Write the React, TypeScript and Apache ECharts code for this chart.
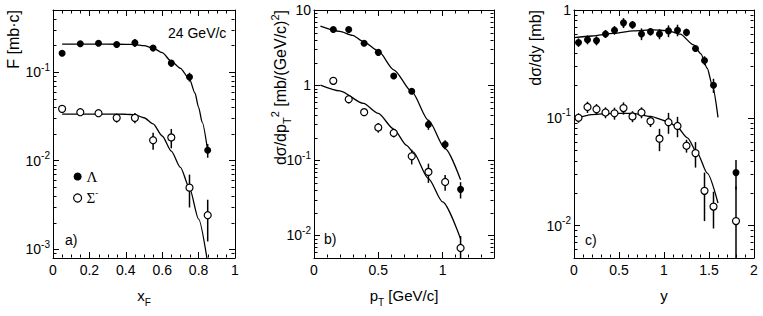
import React, { useEffect, useRef } from "react";
import * as echarts from "echarts";

// ---------- Panel a) F vs x_F ----------
const aX = [0.05, 0.15, 0.25, 0.35, 0.45, 0.55, 0.65, 0.75, 0.85];
const aLam = [0.163, 0.208, 0.211, 0.204, 0.213, 0.186, 0.126, 0.088, 0.0131];
const aLamErr = [0.004, 0.016, 0.014, 0.013, 0.022, 0.01, 0.011, 0.01, 0.0023];
const aSig = [0.0384, 0.0352, 0.0343, 0.0304, 0.0304, 0.017, 0.0183, 0.00497, 0.00243];
const aSigErr = [0.002, 0.0027, 0.0027, 0.0035, 0.004, 0.0037, 0.0045, 0.002, 0.0012];
const aLamCurveX = [0.05, 0.1, 0.2, 0.3, 0.4, 0.45, 0.5, 0.55, 0.6, 0.65, 0.7, 0.75, 0.78, 0.8, 0.82, 0.85];
const aLamCurve = [0.206, 0.206, 0.206, 0.206, 0.205, 0.204, 0.198, 0.186, 0.165, 0.132, 0.11, 0.083, 0.058, 0.04, 0.027, 0.0128];
const aSigCurveX = [0.05, 0.1, 0.2, 0.3, 0.4, 0.45, 0.5, 0.55, 0.6, 0.65, 0.7, 0.75, 0.8, 0.85];
const aSigCurve = [0.0335, 0.0335, 0.0335, 0.0335, 0.0334, 0.033, 0.0305, 0.026, 0.019, 0.0128, 0.0084, 0.0049, 0.0022, 0.0007];

// ---------- Panel b) dσ/dpT² vs pT ----------
const bX = [0.15, 0.27, 0.39, 0.5, 0.62, 0.76, 0.89, 1.02, 1.14];
const bLam = [5.5, 5.5, 3.6, 2.73, 1.32, 0.83, 0.3, 0.162, 0.041];
const bLamErr = [0.4, 0.35, 0.2, 0.15, 0.1, 0.05, 0.046, 0.022, 0.01];
const bSig = [1.14, 0.65, 0.437, 0.273, 0.231, 0.113, 0.07, 0.0514, 0.0068];
const bSigErr = [0.08, 0.08, 0.04, 0.04, 0.03, 0.025, 0.02, 0.012, 0.003];
const bLamCurveX = [0.05, 0.2, 0.3, 0.385, 0.5, 0.62, 0.76, 0.89, 1.02, 1.14];
const bLamCurve = [6.1, 5.2, 4.6, 3.78, 2.85, 1.6, 0.82, 0.34, 0.143, 0.055];
const bSigCurveX = [0.05, 0.2, 0.385, 0.5, 0.62, 0.72, 0.77, 0.89, 1.0, 1.14];
const bSigCurve = [1.0, 0.84, 0.57, 0.42, 0.26, 0.158, 0.129, 0.057, 0.028, 0.009];

// ---------- Panel c) dσ/dy vs y ----------
const cX = [0.05, 0.15, 0.25, 0.35, 0.45, 0.55, 0.65, 0.75, 0.85, 0.95, 1.05, 1.15, 1.25, 1.35, 1.45, 1.55, 1.8];
const cLam = [0.5, 0.53, 0.52, 0.6, 0.65, 0.76, 0.73, 0.6, 0.63, 0.6, 0.64, 0.65, 0.62, 0.44, 0.34, 0.2, 0.031];
const cLamErr = [0.045, 0.05, 0.05, 0.05, 0.06, 0.08, 0.06, 0.075, 0.05, 0.065, 0.08, 0.08, 0.05, 0.03, 0.032, 0.03, 0.0095];
const cSig = [0.1, 0.126, 0.12, 0.112, 0.11, 0.123, 0.103, 0.112, 0.093, 0.064, 0.091, 0.084, 0.055, 0.047, 0.021, 0.015, 0.011];
const cSigErr = [0.01, 0.015, 0.014, 0.013, 0.014, 0.016, 0.012, 0.013, 0.011, 0.015, 0.02, 0.018, 0.0075, 0.0125, 0.01, 0.0056, 0.012];
const cLamCurveX = [0, 0.2, 0.44, 0.66, 0.88, 1.04, 1.18, 1.33, 1.41, 1.48, 1.54, 1.6];
const cLamCurve = [0.554, 0.574, 0.608, 0.64, 0.653, 0.644, 0.596, 0.474, 0.392, 0.288, 0.195, 0.101];
const cSigCurveX = [0, 0.2, 0.44, 0.66, 0.85, 1.04, 1.14, 1.26, 1.37, 1.48, 1.6];
const cSigCurve = [0.097, 0.107, 0.11, 0.11, 0.103, 0.0925, 0.083, 0.065, 0.047, 0.0307, 0.0162];

// axis ranges
const xRanges = [
  { min: 0, max: 1, interval: 0.2, minor: 0.05 },
  { min: 0, max: 1.4, interval: 0.5, minor: 0.1 },
  { min: 0, max: 2, interval: 0.5, minor: 0.1 },
];
const yRanges = [
  { min: 0.0008, max: 0.5 },
  { min: 0.005, max: 10 },
  { min: 0.005, max: 1 },
];

const FONT = '"Liberation Sans", Arial, Helvetica, sans-serif';
const SERIF = '"Liberation Serif", "Times New Roman", serif';

const zip = (xs: number[], ys: number[]) => xs.map((x, i) => [x, ys[i]]);
const zip3 = (xs: number[], ys: number[], es: number[]) => xs.map((x, i) => [x, ys[i], es[i]]);

const tickRich = {
  n: { fontSize: 14, lineHeight: 20, fontFamily: FONT, color: "#000" },
  sup: { fontSize: 10, lineHeight: 10, padding: [0, 0, 10, 0], fontFamily: FONT, color: "#000" },
};
const nameRich = {
  n: { fontSize: 15, lineHeight: 24, fontFamily: FONT, color: "#000" },
  sub: { fontSize: 10, lineHeight: 10, padding: [14, 0, 0, 0], fontFamily: FONT, color: "#000" },
  sup: { fontSize: 10, lineHeight: 10, padding: [2, 0, 12, 0], fontFamily: FONT, color: "#000" },
};
const yNameRich = {
  n: { fontSize: 16, lineHeight: 24, fontFamily: FONT, color: "#000" },
  sub: { fontSize: 11, lineHeight: 10, padding: [14, 0, 0, 0], fontFamily: FONT, color: "#000" },
  sup: { fontSize: 11, lineHeight: 10, padding: [2, 0, 12, 0], fontFamily: FONT, color: "#000" },
};

function logLabel(v: number) {
  const l = Math.log10(v);
  const e = Math.round(l);
  if (Math.abs(l - e) > 1e-6) return "";
  if (e === 0) return "{n|1}";
  if (e === 1) return "{n|10}";
  return "{n|10}{sup|" + e + "}";
}

function minorValues(min: number, max: number, step: number, major: number) {
  const out: number[] = [];
  const n = Math.round((max - min) / step);
  for (let i = 1; i < n; i++) {
    const v = min + i * step;
    const r = v / major;
    if (Math.abs(r - Math.round(r)) < 1e-6) continue;
    out.push(v);
  }
  return out;
}
function logMinorValues(min: number, max: number) {
  const out: number[] = [];
  for (let e = Math.floor(Math.log10(min)); e <= Math.ceil(Math.log10(max)); e++) {
    for (let m = 2; m <= 9; m++) {
      const v = m * Math.pow(10, e);
      if (v > min && v < max) out.push(v);
    }
  }
  return out;
}

function minorTickSeries(gi: number) {
  const xr = xRanges[gi];
  const yr = yRanges[gi];
  const xm = minorValues(xr.min, xr.max, xr.minor, xr.interval);
  const ym = logMinorValues(yr.min, yr.max);
  return {
    type: "custom",
    xAxisIndex: gi,
    yAxisIndex: gi,
    silent: true,
    clip: false,
    z: 1,
    data: [[xr.min, yr.min]],
    renderItem: (params: any, api: any) => {
      const cs = params.coordSys;
      const L = 3;
      const children: any[] = [];
      const st = { stroke: "#000", lineWidth: 1 };
      const left = Math.round(cs.x) + 0.5;
      const right = Math.round(cs.x + cs.width) - 0.5;
      const top = Math.round(cs.y) + 0.5;
      const bottom = Math.round(cs.y + cs.height) - 0.5;
      xm.forEach((v) => {
        const px = Math.round(api.coord([v, yr.min])[0]) + 0.5;
        children.push({ type: "line", shape: { x1: px, y1: bottom, x2: px, y2: bottom - L }, style: st });
        children.push({ type: "line", shape: { x1: px, y1: top, x2: px, y2: top + L }, style: st });
      });
      ym.forEach((v) => {
        const py = Math.round(api.coord([xr.min, v])[1]) + 0.5;
        children.push({ type: "line", shape: { x1: left, y1: py, x2: left + L, y2: py }, style: st });
        children.push({ type: "line", shape: { x1: right, y1: py, x2: right - L, y2: py }, style: st });
      });
      return { type: "group", children };
    },
  };
}

function errorSeries(gi: number, data: number[][]) {
  const yr = yRanges[gi];
  return {
    type: "custom",
    xAxisIndex: gi,
    yAxisIndex: gi,
    silent: true,
    clip: true,
    z: 3,
    encode: { x: 0, y: 1 },
    data,
    renderItem: (params: any, api: any) => {
      const x = api.value(0);
      const y = api.value(1);
      const e = api.value(2);
      const lo = Math.max(y - e, yr.min);
      const hi = Math.min(y + e, yr.max);
      const p1 = api.coord([x, lo]);
      const p2 = api.coord([x, hi]);
      return {
        type: "line",
        shape: { x1: p1[0], y1: p1[1], x2: p2[0], y2: p2[1] },
        style: { stroke: "#000", lineWidth: 1.5 },
      };
    },
  };
}

function curveSeries(gi: number, xs: number[], ys: number[], name: string) {
  return {
    type: "line",
    name,
    xAxisIndex: gi,
    yAxisIndex: gi,
    data: zip(xs, ys),
    showSymbol: false,
    symbol: "none",
    smooth: 0.25,
    smoothMonotone: "x",
    clip: true,
    z: 2,
    lineStyle: { color: "#000", width: 1.3 },
    silent: true,
  };
}

function pointSeries(gi: number, xs: number[], ys: number[], filled: boolean) {
  return {
    type: "scatter",
    name: filled ? "Λ" : "Σ-",
    xAxisIndex: gi,
    yAxisIndex: gi,
    data: zip(xs, ys),
    symbol: "circle",
    symbolSize: 7,
    z: 4,
    itemStyle: filled
      ? { color: "#000", borderColor: "#000", borderWidth: 0, opacity: 1 }
      : { color: "#fff", borderColor: "#000", borderWidth: 1.2, opacity: 1 },
  };
}

const xNames = ["{n|x}{sub|F}", "{n|p}{sub|T}{n| [GeV/c]}", "{n|y}"];

export default function App() {
  const ref = useRef<HTMLDivElement>(null);
  useEffect(() => {
    if (!ref.current) return;
    const chart = echarts.init(ref.current, undefined, { renderer: "svg" });

    const grids = [
      { left: 53, top: 10, width: 182, height: 248 },
      { left: 314, top: 10, width: 180, height: 248 },
      { left: 574, top: 10, width: 180, height: 248 },
    ];

    const xAxes: any[] = [];
    const yAxes: any[] = [];
    [0, 1, 2].forEach((gi) => {
      const xr = xRanges[gi];
      xAxes.push({
        type: "value",
        gridIndex: gi,
        position: "bottom",
        min: xr.min,
        max: xr.max,
        interval: xr.interval,
        axisLine: { show: true, onZero: false, lineStyle: { color: "#000", width: 1 } },
        axisTick: { show: true, inside: true, length: 6, lineStyle: { color: "#000", width: 1 } },
        splitLine: { show: false },
        axisLabel: {
          color: "#000",
          fontSize: 14,
          fontFamily: FONT,
          margin: 5,
          showMaxLabel: gi !== 1,
          formatter: (v: number) => {
            const r = v / xr.interval;
            if (Math.abs(r - Math.round(r)) > 1e-6) return "";
            return String(Math.round(v * 100) / 100);
          },
        },
        name: xNames[gi],
        nameLocation: "middle",
        nameGap: 25,
        nameTextStyle: { fontSize: 15, fontFamily: FONT, color: "#000", rich: nameRich },
      });
    });
    [0, 1, 2].forEach((gi) => {
      const xr = xRanges[gi];
      xAxes.push({
        type: "value",
        gridIndex: gi,
        position: "top",
        min: xr.min,
        max: xr.max,
        interval: xr.interval,
        axisLine: { show: true, onZero: false, lineStyle: { color: "#000", width: 1 } },
        axisTick: { show: true, inside: true, length: 6, lineStyle: { color: "#000", width: 1 } },
        splitLine: { show: false },
        axisLabel: { show: false },
      });
    });
    [0, 1, 2].forEach((gi) => {
      const yr = yRanges[gi];
      yAxes.push({
        type: "log",
        logBase: 10,
        gridIndex: gi,
        position: "left",
        min: yr.min,
        max: yr.max,
        axisLine: { show: true, onZero: false, lineStyle: { color: "#000", width: 1 } },
        axisTick: { show: true, inside: true, length: 6, lineStyle: { color: "#000", width: 1 } },
        splitLine: { show: false },
        axisLabel: {
          color: "#000",
          fontSize: 14,
          fontFamily: FONT,
          margin: 3,
          formatter: logLabel,
          rich: tickRich,
        },
      });
    });
    [0, 1, 2].forEach((gi) => {
      const yr = yRanges[gi];
      yAxes.push({
        type: "log",
        logBase: 10,
        gridIndex: gi,
        position: "right",
        min: yr.min,
        max: yr.max,
        axisLine: { show: true, onZero: false, lineStyle: { color: "#000", width: 1 } },
        axisTick: { show: true, inside: true, length: 6, lineStyle: { color: "#000", width: 1 } },
        splitLine: { show: false },
        axisLabel: { show: false },
      });
    });

    const series: any[] = [
      minorTickSeries(0),
      minorTickSeries(1),
      minorTickSeries(2),
      curveSeries(0, aLamCurveX, aLamCurve, "fitΛa"),
      curveSeries(0, aSigCurveX, aSigCurve, "fitΣa"),
      curveSeries(1, bLamCurveX, bLamCurve, "fitΛb"),
      curveSeries(1, bSigCurveX, bSigCurve, "fitΣb"),
      curveSeries(2, cLamCurveX, cLamCurve, "fitΛc"),
      curveSeries(2, cSigCurveX, cSigCurve, "fitΣc"),
      errorSeries(0, zip3(aX, aLam, aLamErr)),
      errorSeries(0, zip3(aX, aSig, aSigErr)),
      errorSeries(1, zip3(bX, bLam, bLamErr)),
      errorSeries(1, zip3(bX, bSig, bSigErr)),
      errorSeries(2, zip3(cX, cLam, cLamErr)),
      errorSeries(2, zip3(cX, cSig, cSigErr)),
      pointSeries(0, aX, aLam, true),
      pointSeries(0, aX, aSig, false),
      pointSeries(1, bX, bLam, true),
      pointSeries(1, bX, bSig, false),
      pointSeries(2, cX, cLam, true),
      pointSeries(2, cX, cSig, false),
    ];

    const yNameStyle = { fontSize: 16, fontFamily: FONT, fill: "#000", align: "right", verticalAlign: "middle", rich: yNameRich };

    chart.setOption({
      animation: false,
      backgroundColor: "#fff",
      grid: grids,
      xAxis: xAxes,
      yAxis: yAxes,
      legend: {
        orient: "vertical",
        left: 73,
        top: 169,
        padding: 0,
        itemGap: 4,
        itemWidth: 8,
        itemHeight: 8,
        selectedMode: false,
        data: [
          { name: "Λ", icon: "circle", itemStyle: { color: "#000", borderWidth: 0, opacity: 1 } },
          { name: "Σ-", icon: "circle", itemStyle: { color: "#fff", borderColor: "#000", borderWidth: 1.2, opacity: 1 } },
        ],
        formatter: (name: string) => (name === "Σ-" ? "{s|Σ}{sup|-}" : "{s|Λ}"),
        textStyle: {
          color: "#000",
          rich: {
            s: { fontFamily: SERIF, fontSize: 15, lineHeight: 20, color: "#000" },
            sup: { fontFamily: SERIF, fontSize: 9, lineHeight: 9, padding: [0, 0, 11, 0], color: "#000" },
          },
        },
      },
      graphic: [
        { type: "text", x: 13, y: 10, rotation: Math.PI / 2, style: { ...yNameStyle, text: "{n|F [mb·c]}" } },
        {
          type: "text",
          x: 280,
          y: 10,
          rotation: Math.PI / 2,
          style: { ...yNameStyle, text: "{n|dσ/dp}{sub|T}{sup|2}{n| [mb/(GeV/c)}{sup|2}{n|]}" },
        },
        { type: "text", x: 535, y: 10, rotation: Math.PI / 2, style: { ...yNameStyle, text: "{n|dσ/dy [mb]}" } },
        { type: "text", x: 168, y: 33, style: { text: "24 GeV/c", fontSize: 14, fontFamily: FONT, fill: "#000", verticalAlign: "middle" } },
        { type: "text", x: 65, y: 240, style: { text: "a)", fontSize: 14, fontFamily: FONT, fill: "#000", verticalAlign: "middle" } },
        { type: "text", x: 324, y: 239, style: { text: "b)", fontSize: 14, fontFamily: FONT, fill: "#000", verticalAlign: "middle" } },
        { type: "text", x: 585, y: 240, style: { text: "c)", fontSize: 14, fontFamily: FONT, fill: "#000", verticalAlign: "middle" } },
      ],
      series,
    });
    return () => chart.dispose();
  }, []);
  return <div ref={ref} style={{ width: 763, height: 316, position: "absolute", left: 0, top: 0 }} />;
}
